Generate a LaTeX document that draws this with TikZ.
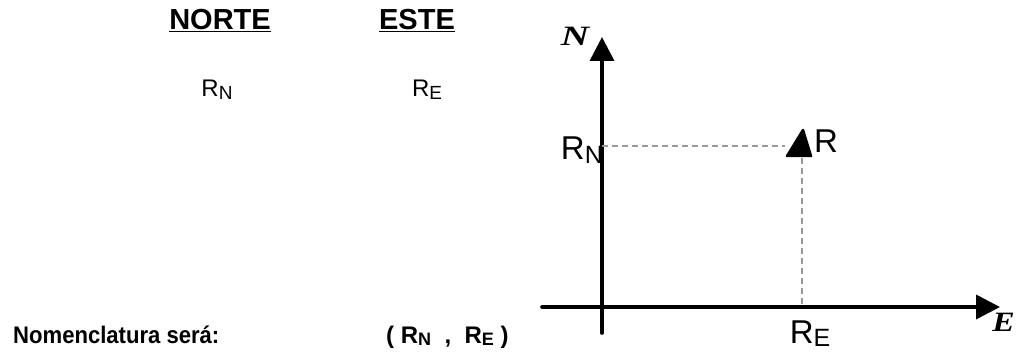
\documentclass[tikz,border=0pt]{standalone}
\usepackage{fontspec}
\setmainfont{Liberation Sans}
\newfontfamily\serifit{Liberation Serif}
\usetikzlibrary{arrows.meta}
\tikzset{
  axis/.style={line width=3.6pt, line cap=round, -{Triangle[length=24pt,width=24pt]}},
  guide/.style={gray!80, line width=1.4pt, dash pattern=on 6pt off 4pt},
  head/.style={font=\fontsize{29}{32}\selectfont\bfseries, inner sep=0pt},
  lab/.style={font=\fontsize{24}{28}\selectfont, inner sep=0pt},
  big/.style={font=\fontsize{33}{38}\selectfont, inner sep=0pt},
  bold/.style={font=\fontsize{24}{28}\selectfont\bfseries, inner sep=0pt},
  axlab/.style={font=\fontsize{28}{30}\selectfont\serifit\bfseries\itshape, inner sep=0pt},
  marker/.style={fill=black, draw=black, line join=round, line width=2.5pt}
}
\newcommand{\Rsub}[2]{R\raisebox{-0.12em}{\fontsize{#2}{#2}\selectfont #1}}
\begin{document}
\begin{tikzpicture}[x=1pt,y=-1pt]
\useasboundingbox (0,0) rectangle (1016,358);
% headings
\node[head, anchor=base] (norte) at (220,30) {\underline{NORTE}};
\node[head, anchor=base] (este) at (417,30) {\underline{ESTE}};
\node[lab, anchor=base] (rn) at (217,97) {\Rsub{N}{19}};
\node[lab, anchor=base] (re) at (427,97) {\Rsub{E}{19}};
% axes
\coordinate (o1) at (602,333);
\coordinate (ntip) at (602,37);
\coordinate (e0) at (542,307);
\coordinate (etip) at (1000,307);
\draw[axis] (o1) -- (ntip);
\draw[axis] (e0) -- (etip);
\node[axlab, anchor=base] (N) at (575,46) {\scalebox{1.4}[1]{N}};
\node[axlab, anchor=base east] (E) at (1015,331) {\scalebox{1.2}[1]{E}};
% point R
\coordinate (pn) at (602,146);
\coordinate (pr) at (785,146);
\coordinate (pv) at (802,158);
\coordinate (pe) at (802,307);
\draw[guide] (pn) -- (pr);
\draw[guide] (pv) -- (pe);
\draw[marker] (787,156) -- (803,130) -- (811,156) -- cycle;
\node[big, anchor=west] (R) at (814,141) {R};
\node[big, anchor=base east] (RN) at (603,160) {\Rsub{N}{25}};
\node[big, anchor=base] (RE) at (810,343) {\Rsub{E}{25}};
% bottom line
\node[bold, anchor=base west] (nom) at (13,343) {\scalebox{0.92}[1]{Nomenclatura será:}};
\node[bold, anchor=base west] (pair) at (386,343) {( \Rsub{N}{18} \ , \ \Rsub{E}{18} )};
\end{tikzpicture}
\end{document}
